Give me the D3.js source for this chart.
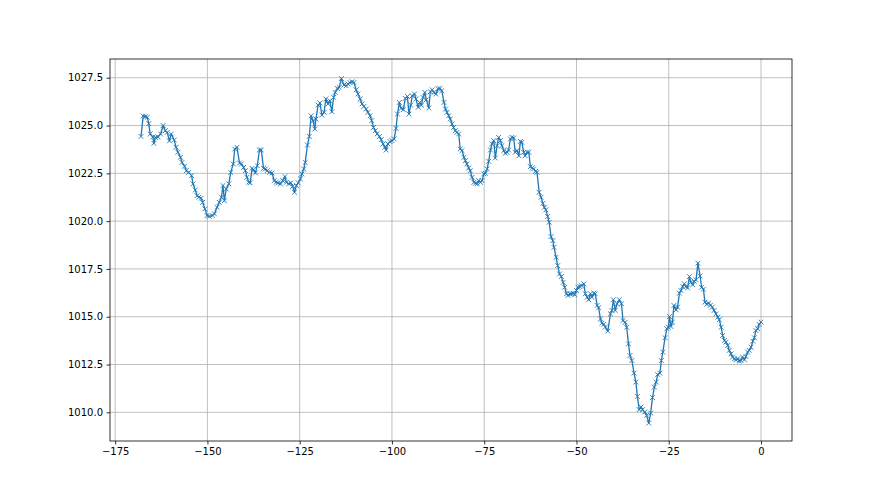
<!DOCTYPE html>
<html>
<head>
<meta charset="utf-8">
<script src="https://cdn.jsdelivr.net/npm/d3@7"></script>
<style>
  body { margin: 0; background: #fff; }
  text { font-family: "DejaVu Sans", sans-serif; }
</style>
</head>
<body>
<div id="chart"></div>
<script>
// hours before now
var hours = [
  -168.0, -167.4, -166.8, -166.3, -165.9, -165.5, -164.8, -164.5, -164.1, -163.4,
  -162.7, -162.0, -161.4, -160.9, -160.3, -159.8, -159.0, -158.5, -158.0, -157.3,
  -156.9, -156.2, -155.7, -155.1, -154.3, -153.9, -153.3, -152.8, -152.3, -151.7,
  -151.3, -150.7, -150.1, -149.5, -148.7, -148.1, -147.4, -146.8, -146.2, -145.8,
  -145.4, -144.9, -144.2, -143.7, -143.0, -142.6, -142.0, -141.3, -140.8, -140.2,
  -139.7, -139.3, -138.8, -138.4, -137.9, -137.5, -137.0, -136.5, -135.9, -135.4,
  -134.8, -134.3, -133.8, -133.2, -132.5, -131.9, -131.4, -130.9, -130.2, -129.6,
  -129.0, -128.6, -128.0, -127.4, -126.9, -126.4, -125.9, -125.4, -124.8, -124.4,
  -123.9, -123.5, -122.9, -122.4, -121.9, -121.4, -120.9, -120.6, -120.0, -119.5,
  -119.0, -118.4, -117.9, -117.3, -116.8, -116.3, -115.8, -115.4, -114.8, -114.3,
  -113.7, -113.0, -112.4, -111.9, -111.4, -110.8, -110.3, -109.7, -109.2, -108.6,
  -108.1, -107.6, -107.0, -106.5, -105.9, -105.5, -105.0, -104.5, -104.0, -103.4,
  -102.9, -102.4, -101.9, -101.6, -101.1, -100.5, -100.0, -99.4, -98.9, -98.5,
  -98.0, -97.5, -96.9, -96.4, -95.8, -95.4, -94.9, -94.5, -93.9, -93.5,
  -92.9, -92.5, -92.0, -91.6, -91.1, -90.7, -90.0, -89.6, -89.1, -88.6,
  -88.1, -87.5, -87.0, -86.5, -85.9, -85.5, -85.1, -84.6, -84.2, -83.7,
  -83.3, -82.8, -82.4, -81.9, -81.5, -81.0, -80.5, -80.1, -79.7, -79.2,
  -78.8, -78.3, -77.8, -77.4, -76.9, -76.5, -76.0, -75.6, -75.1, -74.7,
  -74.2, -73.8, -73.3, -72.9, -72.4, -72.0, -71.5, -71.1, -70.6, -70.2,
  -69.7, -69.3, -68.8, -68.4, -67.9, -67.5, -67.0, -66.6, -66.1, -65.6,
  -65.2, -64.8, -64.3, -63.9, -63.4, -62.9, -62.5, -62.0, -61.6, -61.1,
  -60.7, -60.1, -59.6, -59.1, -58.7, -58.3, -57.8, -57.4, -56.9, -56.4,
  -56.1, -55.5, -55.1, -54.6, -54.1, -53.6, -53.2, -52.7, -52.3, -51.8,
  -51.4, -50.9, -50.5, -50.0, -49.6, -49.1, -48.7, -48.0, -47.6, -47.1,
  -46.7, -46.2, -45.8, -45.3, -44.9, -44.4, -44.0, -43.5, -43.1, -42.6,
  -42.2, -41.5, -40.8, -40.4, -40.0, -39.5, -39.0, -38.4, -37.8, -37.4,
  -36.8, -36.4, -35.9, -35.5, -35.0, -34.4, -33.9, -33.5, -33.0, -32.5,
  -32.1, -31.5, -31.0, -30.4, -29.9, -29.4, -28.9, -28.4, -28.0, -27.4,
  -27.0, -26.6, -26.0, -25.5, -25.1, -24.8, -24.4, -24.0, -23.6, -23.0,
  -22.6, -22.1, -21.7, -21.2, -20.8, -20.3, -19.9, -19.4, -19.0, -18.5,
  -18.1, -17.6, -17.1, -16.5, -16.1, -15.6, -15.2, -14.7, -14.2, -13.7,
  -13.2, -12.7, -12.2, -11.7, -11.3, -10.8, -10.4, -9.9, -9.5, -9.0,
  -8.6, -8.1, -7.7, -7.2, -6.8, -6.3, -5.9, -5.4, -5.0, -4.5,
  -4.1, -3.6, -3.2, -2.7, -2.2, -1.8, -1.4, -0.9, -0.5, 0.0
];

// pressure readings
var pressure = [
  1024.43, 1025.50, 1025.46, 1025.43, 1025.10, 1024.56, 1024.40, 1024.07, 1024.38, 1024.40,
  1024.56, 1025.00, 1024.73, 1024.64, 1024.20, 1024.56, 1024.24, 1023.86, 1023.60, 1023.34,
  1023.07, 1022.87, 1022.64, 1022.55, 1022.38, 1021.95, 1021.63, 1021.33, 1021.25, 1021.20,
  1020.98, 1020.64, 1020.29, 1020.25, 1020.29, 1020.38, 1020.72, 1020.98, 1021.25, 1021.86,
  1021.07, 1021.68, 1021.95, 1022.55, 1022.99, 1023.77, 1023.86, 1023.04, 1022.99, 1022.81,
  1022.64, 1022.29, 1022.03, 1022.00, 1022.76, 1022.69, 1022.52, 1022.90, 1023.72, 1023.72,
  1022.76, 1022.73, 1022.64, 1022.55, 1022.52, 1022.12, 1022.03, 1022.00, 1021.95, 1022.12,
  1022.33, 1022.03, 1021.95, 1022.00, 1021.82, 1021.51, 1021.86, 1022.00, 1022.21, 1022.47,
  1022.73, 1023.07, 1023.98, 1024.43, 1025.51, 1025.25, 1024.82, 1025.34, 1026.07, 1026.18,
  1025.55, 1025.69, 1026.39, 1026.13, 1026.30, 1025.72, 1026.47, 1026.73, 1026.94, 1026.99,
  1027.46, 1027.12, 1027.08, 1027.17, 1027.25, 1027.29, 1027.25, 1026.87, 1026.65, 1026.39,
  1026.13, 1026.00, 1025.86, 1025.69, 1025.51, 1025.25, 1024.90, 1024.73, 1024.56, 1024.43,
  1024.26, 1024.04, 1023.86, 1023.72, 1024.04, 1024.16, 1024.21, 1024.30, 1024.85, 1025.60,
  1026.21, 1025.90, 1025.83, 1026.42, 1026.52, 1025.60, 1026.07, 1026.56, 1026.65, 1026.39,
  1025.95, 1026.21, 1026.07, 1026.47, 1026.73, 1026.35, 1025.92, 1026.77, 1026.87, 1026.73,
  1026.65, 1026.93, 1026.93, 1026.82, 1026.21, 1025.86, 1025.69, 1025.51, 1025.34, 1025.08,
  1024.90, 1024.73, 1024.64, 1024.56, 1023.77, 1023.69, 1023.34, 1023.16, 1022.99, 1022.78,
  1022.64, 1022.29, 1022.03, 1021.98, 1021.95, 1022.12, 1022.03, 1022.12, 1022.47, 1022.50,
  1022.73, 1023.13, 1023.72, 1024.04, 1024.21, 1023.30, 1023.95, 1024.38, 1024.21, 1023.95,
  1023.69, 1023.55, 1023.60, 1023.72, 1024.30, 1024.38, 1024.35, 1023.60, 1023.69, 1023.42,
  1024.17, 1024.12, 1023.60, 1023.42, 1023.60, 1023.60, 1022.85, 1022.78, 1022.73, 1022.60,
  1022.55, 1021.51, 1021.25, 1020.93, 1020.72, 1020.59, 1020.24, 1019.94, 1019.19, 1018.98,
  1018.63, 1018.11, 1017.67, 1017.24, 1017.10, 1016.80, 1016.54, 1016.20, 1016.11, 1016.20,
  1016.20, 1016.23, 1016.15, 1016.37, 1016.54, 1016.58, 1016.63, 1016.72, 1016.20, 1016.02,
  1015.89, 1016.20, 1016.02, 1016.23, 1016.20, 1015.59, 1015.47, 1014.89, 1014.66, 1014.60,
  1014.46, 1014.25, 1015.15, 1015.33, 1015.89, 1015.33, 1015.68, 1015.89, 1015.68, 1014.80,
  1014.71, 1014.45, 1013.58, 1012.97, 1012.71, 1012.05, 1011.58, 1010.83, 1010.14, 1010.28,
  1010.14, 1010.02, 1009.84, 1009.44, 1009.96, 1010.77, 1011.32, 1011.58, 1011.98, 1012.05,
  1012.71, 1013.15, 1013.90, 1014.37, 1014.45, 1015.01, 1014.49, 1014.72, 1015.59, 1015.36,
  1015.50, 1016.23, 1016.37, 1016.58, 1016.72, 1016.58, 1016.51, 1017.10, 1016.80, 1016.67,
  1016.86, 1016.93, 1017.80, 1017.13, 1016.54, 1016.44, 1015.76, 1015.66, 1015.71, 1015.60,
  1015.50, 1015.33, 1015.15, 1014.98, 1014.84, 1014.45, 1014.02, 1013.76, 1013.67, 1013.50,
  1013.24, 1013.06, 1012.89, 1012.80, 1012.75, 1012.80, 1012.68, 1012.71, 1012.89, 1012.75,
  1012.92, 1013.15, 1013.24, 1013.41, 1013.72, 1013.90, 1014.28, 1014.37, 1014.60, 1014.72
];

var xTicks = [-175, -150, -125, -100, -75, -50, -25, 0];
var yTicks = [1010.0, 1012.5, 1015.0, 1017.5, 1020.0, 1022.5, 1025.0, 1027.5];

var width = 880;
var height = 495;
var margin = { top: 59, right: 88, bottom: 54, left: 110 };
var color = "#1f77b4";

var data = hours.map(function(h, i) { return { h: h, p: pressure[i] }; });

var svg = d3.select("#chart").append("svg").attr("width", width).attr("height", height);

var x = d3.scaleLinear().domain([-176.4, 8.4]).range([margin.left, width - margin.right]);
var y = d3.scaleLinear().domain([1008.5, 1028.48]).range([height - margin.bottom, margin.top]);

// grid
svg.append("g").selectAll("line").data(xTicks).enter().append("line")
  .attr("x1", d => x(d)).attr("x2", d => x(d))
  .attr("y1", margin.top).attr("y2", height - margin.bottom)
  .attr("stroke", "#b0b0b0").attr("stroke-width", 0.8);
svg.append("g").selectAll("line").data(yTicks).enter().append("line")
  .attr("y1", d => y(d)).attr("y2", d => y(d))
  .attr("x1", margin.left).attr("x2", width - margin.right)
  .attr("stroke", "#b0b0b0").attr("stroke-width", 0.8);

// axes
var xAxis = svg.append("g")
  .attr("transform", "translate(0," + (height - margin.bottom) + ")")
  .call(d3.axisBottom(x).tickValues(xTicks).tickFormat(d3.format("d")).tickSizeOuter(0).tickSize(3.5).tickPadding(3.5));
var yAxis = svg.append("g")
  .attr("transform", "translate(" + margin.left + ",0)")
  .call(d3.axisLeft(y).tickValues(yTicks).tickFormat(d3.format(".1f")).tickSizeOuter(0).tickSize(3.5).tickPadding(3.5));
[xAxis, yAxis].forEach(function(a) {
  a.select(".domain").remove();
  a.selectAll("text").attr("font-size", 10).attr("fill", "#000").style("font-family", "DejaVu Sans");
  a.selectAll("line").attr("stroke", "#000").attr("stroke-width", 0.8);
});

// line
var line = d3.line().x(d => x(d.h)).y(d => y(d.p));
svg.append("path").datum(data)
  .attr("d", line).attr("fill", "none")
  .attr("stroke", color).attr("stroke-width", 1.3).attr("stroke-linejoin", "round");

// x markers
var m = 2.4;
svg.append("g").selectAll("path").data(data).enter().append("path")
  .attr("d", d => {
    var cx = x(d.h), cy = y(d.p);
    return "M" + (cx - m) + "," + (cy - m) + "L" + (cx + m) + "," + (cy + m) +
      "M" + (cx - m) + "," + (cy + m) + "L" + (cx + m) + "," + (cy - m);
  })
  .attr("stroke", color).attr("stroke-width", 0.9).attr("fill", "none");

// frame
svg.append("rect")
  .attr("x", margin.left).attr("y", margin.top)
  .attr("width", width - margin.left - margin.right)
  .attr("height", height - margin.top - margin.bottom)
  .attr("fill", "none").attr("stroke", "#000").attr("stroke-width", 0.8);
</script>
</body>
</html>
